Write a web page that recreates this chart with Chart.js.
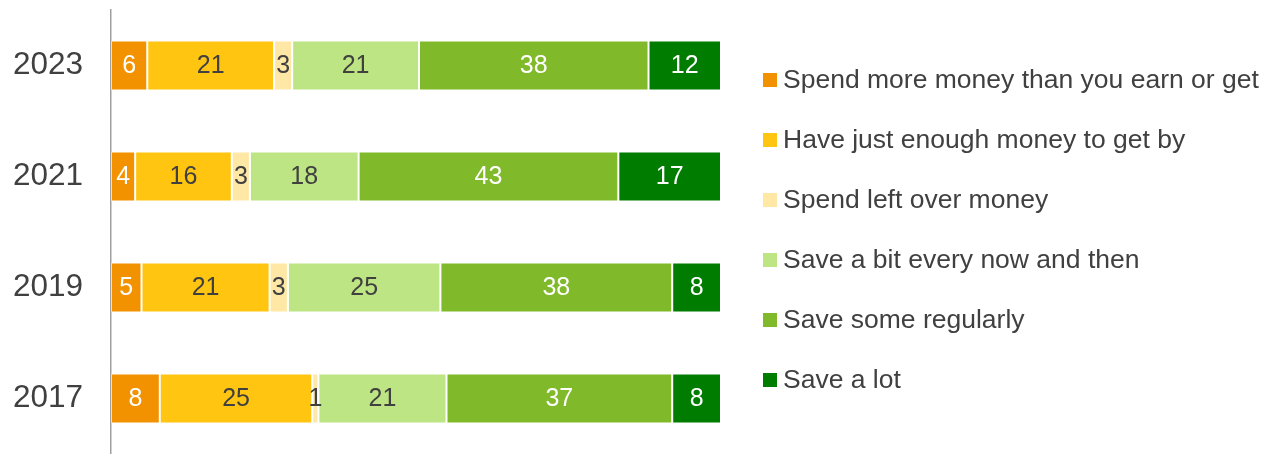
<!DOCTYPE html>
<html>
<head>
<meta charset="utf-8">
<script src="https://cdn.jsdelivr.net/npm/chart.js@4"></script>
<style>
  html, body { margin: 0; padding: 0; background: #fff; }
  #wrap { width: 1264px; height: 454px; position: relative; }
</style>
</head>
<body>
<div id="wrap"><canvas id="grafico"></canvas></div>
<script>
// categorias (anos) e séries
const anos = ['2023', '2021', '2019', '2017'];
const gastaMais = [6, 4, 5, 8];
const justoSuficiente = [21, 16, 21, 25];
const gastaSobra = [3, 3, 3, 1];
const poupaUmPouco = [21, 18, 25, 21];
const poupaRegular = [38, 43, 38, 37];
const poupaMuito = [12, 17, 8, 8];

const fonte = '"Liberation Sans", Arial, sans-serif';

const series = [
    { label: 'Spend more money than you earn or get', valores: gastaMais, cor: '#F39200', texto: '#ffffff' },
    { label: 'Have just enough money to get by', valores: justoSuficiente, cor: '#FFC510', texto: '#404040' },
    { label: 'Spend left over money', valores: gastaSobra, cor: '#FFE8A6', texto: '#404040' },
    { label: 'Save a bit every now and then', valores: poupaUmPouco, cor: '#BEE583', texto: '#404040' },
    { label: 'Save some regularly', valores: poupaRegular, cor: '#80B929', texto: '#ffffff' },
    { label: 'Save a lot', valores: poupaMuito, cor: '#007D00', texto: '#ffffff' }
];

// total de cada ano (barras empilhadas a 100%)
const totais = anos.map((a, i) => series.reduce((s, ser) => s + ser.valores[i], 0));

const datasets = series.map(ser => ({
    label: ser.label,
    data: ser.valores.map((v, i) => v / totais[i] * 100),
    brutos: ser.valores,
    corTexto: ser.texto,
    backgroundColor: ser.cor,
    borderColor: 'rgba(255,255,255,0.4)',
    borderWidth: 1,
    borderSkipped: false,
    categoryPercentage: 0.9,
    barPercentage: 0.5
}));

// Plugin simples para escrever os valores no meio de cada segmento
const rotulos = {
    id: 'rotulos',
    afterDatasetsDraw(chart) {
        const ctx = chart.ctx;
        ctx.save();
        ctx.font = '25px ' + fonte;
        ctx.textAlign = 'center';
        ctx.textBaseline = 'middle';
        chart.data.datasets.forEach((ds, d) => {
            const meta = chart.getDatasetMeta(d);
            meta.data.forEach((bar, i) => {
                const cx = (bar.x + bar.base) / 2;
                ctx.fillStyle = ds.corTexto;
                ctx.fillText(String(ds.brutos[i]), cx, bar.y + 1);
            });
        });
        ctx.restore();
    }
};

// Legenda desenhada à direita do gráfico
const legenda = {
    id: 'legenda',
    afterDraw(chart) {
        const ctx = chart.ctx;
        const x0 = chart.chartArea.right + 42;
        const y0 = 80;
        const passo = 60;
        ctx.save();
        ctx.font = '26.5px ' + fonte;
        ctx.textAlign = 'left';
        ctx.textBaseline = 'middle';
        chart.data.datasets.forEach((ds, d) => {
            const y = y0 + d * passo;
            ctx.fillStyle = ds.backgroundColor;
            ctx.fillRect(x0, y - 7, 14, 14);
            ctx.fillStyle = '#404040';
            ctx.fillText(ds.label, x0 + 20, y + 1);
        });
        ctx.restore();
    }
};

const ctx = document.getElementById('grafico').getContext('2d');
new Chart(ctx, {
    type: 'bar',
    data: { labels: anos, datasets: datasets },
    options: {
        indexAxis: 'y',
        responsive: true,
        maintainAspectRatio: false,
        animation: false,
        layout: { padding: { left: 0, top: 10, right: 543, bottom: 0 } },
        scales: {
            x: { stacked: true, min: 0, max: 100, display: false },
            y: {
                stacked: true,
                grid: { display: false, drawTicks: false },
                border: { display: true, color: '#a0a0a0', width: 1.5 },
                ticks: {
                    color: '#404040',
                    padding: 28,
                    font: { family: fonte, size: 31.5 }
                },
                afterFit(scale) {
                    scale.width = 111;
                    scale.paddingTop = 0;
                    scale.paddingBottom = 0;
                }
            }
        },
        plugins: {
            tooltip: { enabled: false },
            legend: { display: false }
        }
    },
    plugins: [rotulos, legenda]
});
</script>
</body>
</html>
